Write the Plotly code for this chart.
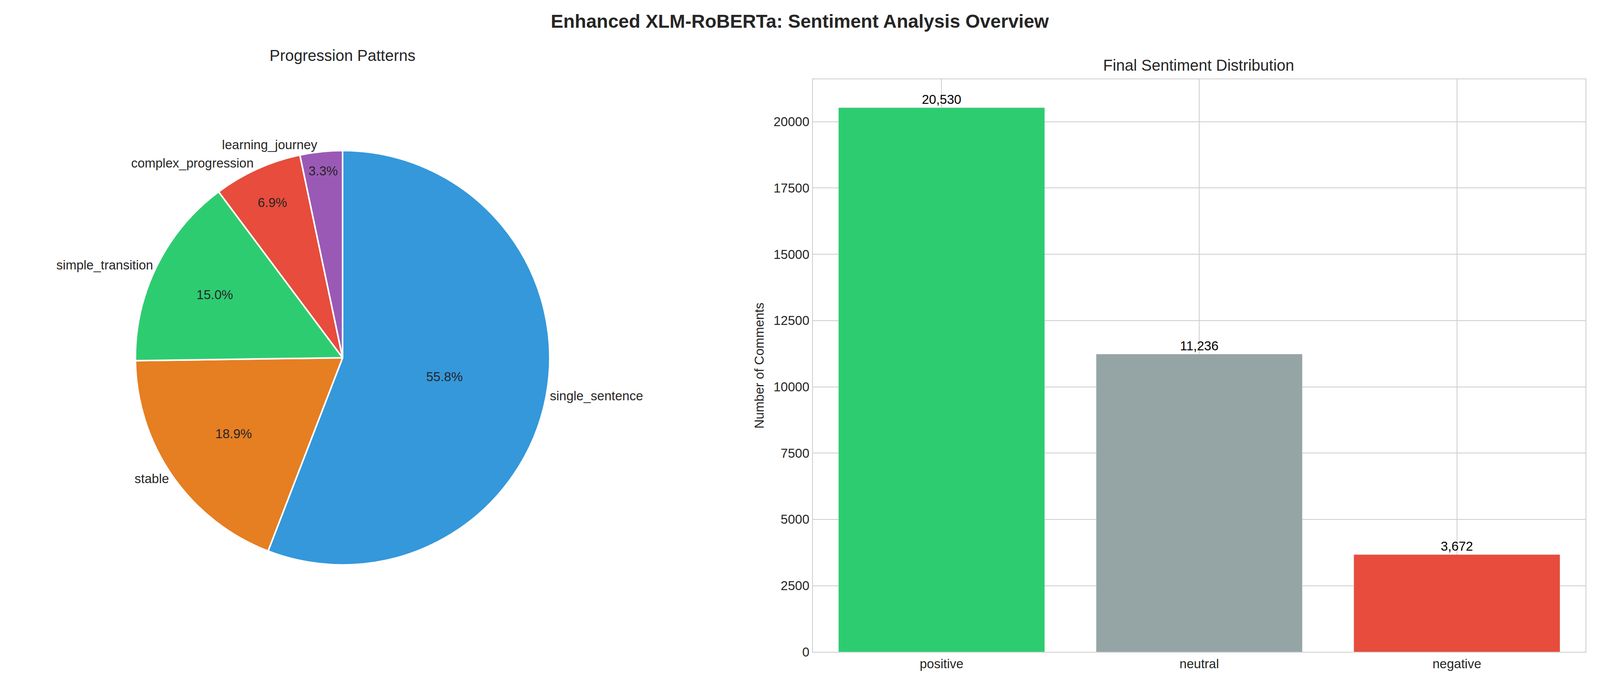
import plotly.graph_objects as go

# pie data
pattern_labels = ["single_sentence", "stable", "simple_transition", "complex_progression", "learning_journey"]
pattern_share = [55.8, 18.9, 15.0, 6.9, 3.3]
pattern_colors = ["#3498db", "#e67e22", "#2ecc71", "#e74c3c", "#9b59b6"]

# bar data
sentiments = ["positive", "neutral", "negative"]
sentiment_counts = [20530, 11236, 3672]
sentiment_colors = ["#2ecc71", "#95a5a6", "#e74c3c"]

FONT = "Liberation Sans, Arial, sans-serif"
TXT = "#262626"

fig = go.Figure()

pie_domain = dict(x=[0.083, 0.343], y=[0.150, 0.817])
PIE_DIR = "clockwise"

# outer labels (slice names outside)
fig.add_trace(go.Pie(
    labels=pattern_labels, values=pattern_share, sort=False,
    direction=PIE_DIR, rotation=0, domain=pie_domain,
    text=pattern_labels, textinfo="text", textposition="outside",
    marker=dict(colors=pattern_colors, line=dict(color="white", width=4)),
    textfont=dict(size=33, color=TXT, family=FONT),
    showlegend=False, hoverinfo="skip",
))
# percentages inside
fig.add_trace(go.Pie(
    labels=pattern_labels, values=pattern_share, sort=False,
    direction=PIE_DIR, rotation=0, domain=pie_domain,
    texttemplate="%{value:.1f}%", textposition="inside", insidetextorientation="horizontal",
    marker=dict(colors=pattern_colors, line=dict(color="white", width=4)),
    textfont=dict(size=33, color=TXT, family=FONT),
    showlegend=False,
))

fig.add_trace(go.Bar(
    x=sentiments, y=sentiment_counts, marker_color=sentiment_colors,
    width=0.8, text=[f"{v:,}" for v in sentiment_counts], textposition="outside",
    textfont=dict(size=33, color="black", family=FONT), cliponaxis=False,
    xaxis="x", yaxis="y", showlegend=False,
))

axis_common = dict(showgrid=True, gridcolor="#cccccc", gridwidth=2, showline=True,
                   linecolor="#cccccc", linewidth=2, mirror=True, zeroline=False,
                   tickfont=dict(size=33, color=TXT, family=FONT))

fig.update_layout(
    autosize=True,
    paper_bgcolor="white", plot_bgcolor="white",
    margin=dict(l=0, r=0, t=0, b=0),
    font=dict(family=FONT, color=TXT),
    xaxis=dict(domain=[0.508, 0.993], **axis_common),
    yaxis=dict(domain=[0.055, 0.889], range=[0, 21600], dtick=2500, tickformat="d",
               title=dict(text="Number of Comments", font=dict(size=33, color=TXT)),
               ticks="", **axis_common),
    bargap=0.2,
    annotations=[
        dict(text="<b>Enhanced XLM-RoBERTa: Sentiment Analysis Overview</b>", x=0.5, y=0.99,
             xref="paper", yref="paper", xanchor="center", yanchor="top", showarrow=False,
             font=dict(size=48, color=TXT)),
        dict(text="Progression Patterns", x=0.213, y=0.91, xref="paper", yref="paper",
             xanchor="center", yanchor="bottom", showarrow=False, font=dict(size=40, color=TXT)),
        dict(text="Final Sentiment Distribution", x=0.75, y=0.896, xref="paper", yref="paper",
             xanchor="center", yanchor="bottom", showarrow=False, font=dict(size=40, color=TXT)),
    ],
)

fig.write_html("out.html", default_width="100%", default_height="100vh")
